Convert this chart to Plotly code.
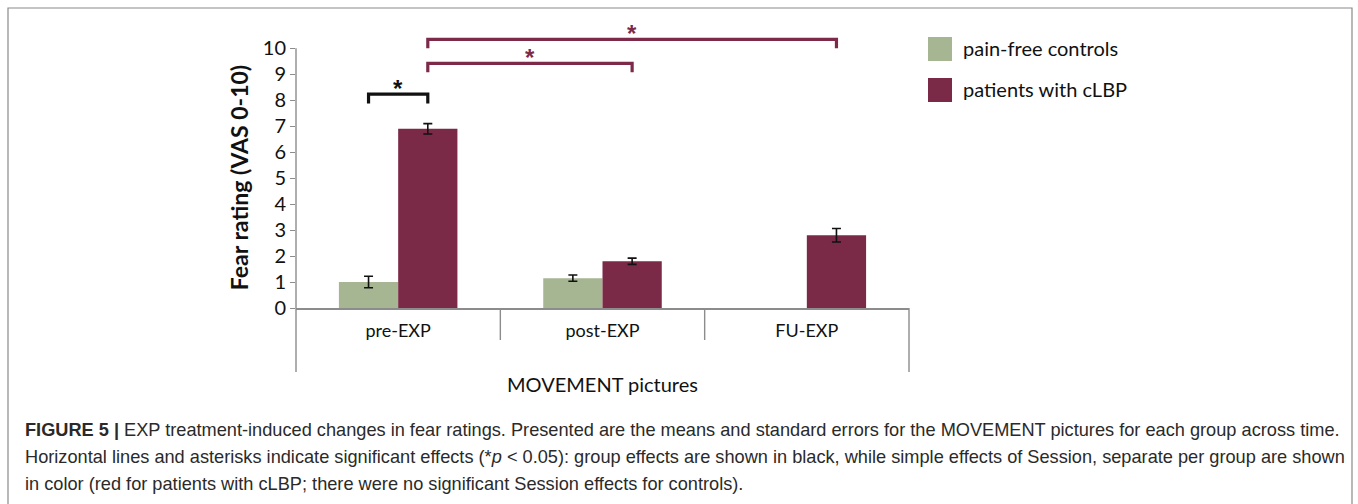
import plotly.graph_objects as go

# ---------------- data ----------------
categories = ["pre-EXP", "post-EXP", "FU-EXP"]
series_names = ["pain-free controls", "patients with cLBP"]
controls_mean = [1.0, 1.15, None]
controls_se = [0.22, 0.12, None]
patients_mean = [6.9, 1.8, 2.8]
patients_se = [0.2, 0.12, 0.26]
y_ticks = [0, 1, 2, 3, 4, 5, 6, 7, 8, 9, 10]
y_title = "Fear rating (VAS 0-10)"
x_title = "MOVEMENT pictures"
# significance brackets: (cat_from, group_from, cat_to, group_to, height, drop, colour key)
brackets = [
    (0, 0, 0, 1, 8.24, 0.36, "group"),
    (0, 1, 1, 1, 9.42, 0.34, "session"),
    (0, 1, 2, 1, 10.35, 0.35, "session"),
]
caption_bold = "FIGURE 5 |"
caption_lines = [
    " EXP treatment-induced changes in fear ratings. Presented are the means and standard errors for the MOVEMENT pictures for each group across time.",
    "Horizontal lines and asterisks indicate significant effects (*<i>p</i> &lt; 0.05): group effects are shown in black, while simple effects of Session, separate per group are shown",
    "in color (red for patients with cLBP; there were no significant Session effects for controls).",
]

# ---------------- style ----------------
GREEN = "#a6b693"
RED = "#7a2946"
AXIS = "#8c8c8c"
colours = {"group": "#111111", "session": "#7d2a4a"}
BARGAP = 0.42
FONT = "Lato"

W, H = 1358, 504
L, R, T, B = 296, 449, 25, 196
PW, PH = W - L - R, H - T - B


def xp(px):
    return (px - L) / PW


def yp(py):
    return (H - B - py) / PH


fig = go.Figure()
fig.add_trace(go.Bar(
    x=categories, y=controls_mean, name=series_names[0], marker_color=GREEN,
    marker_line_width=0,
    error_y=dict(type="data", array=controls_se, color="#111111", thickness=1.6, width=4.5),
))
fig.add_trace(go.Bar(
    x=categories, y=patients_mean, name=series_names[1], marker_color=RED,
    marker_line_width=0,
    error_y=dict(type="data", array=patients_se, color="#111111", thickness=1.6, width=4.5),
))

shapes = []
annotations = []

# brackets and stars
off = (1 - BARGAP) / 4
for c0, g0, c1, g1, h, drop, key in brackets:
    x0 = c0 + (-off if g0 == 0 else off)
    x1 = c1 + (-off if g1 == 0 else off)
    col = colours[key]
    shapes.append(dict(type="path", xref="x", yref="y",
                       path=f"M {x0},{h - drop} L {x0},{h} L {x1},{h} L {x1},{h - drop}",
                       line=dict(color=col, width=3.2)))
    annotations.append(dict(x=(x0 + x1) / 2, y=h - 0.38, xref="x", yref="y", text="<b>*</b>",
                            showarrow=False, yanchor="bottom",
                            font=dict(family="Liberation Sans", size=24, color=col)))

# y axis line (0..10) and category frame lines
shapes.append(dict(type="line", xref="paper", yref="y", x0=0, x1=0, y0=0, y1=10,
                   line=dict(color=AXIS, width=1.4)))
n = len(categories)
for i in range(n + 1):
    outer = i == 0 or i == n
    shapes.append(dict(type="line", xref="paper", yref="paper", x0=i / n, x1=i / n,
                       y0=0, y1=yp(372 if outer else 340),
                       line=dict(color=AXIS, width=1.4)))

# figure border
shapes.append(dict(type="rect", xref="paper", yref="paper",
                   x0=xp(8), x1=xp(1352), y0=yp(540), y1=yp(8),
                   line=dict(color="#8a8a8a", width=1.2)))

# legend (drawn manually for large swatches)
for i, (nm, col) in enumerate(zip(series_names, [GREEN, RED])):
    top = 37 + i * 41
    shapes.append(dict(type="rect", xref="paper", yref="paper",
                       x0=xp(928), x1=xp(952), y0=yp(top + 24), y1=yp(top),
                       fillcolor=col, line=dict(width=0)))
    annotations.append(dict(x=xp(961), y=yp(top + 11), xref="paper", yref="paper",
                            text=nm, showarrow=False, xanchor="left", yanchor="middle",
                            font=dict(family=FONT, size=20, color="#111111")))

# y title
annotations.append(dict(x=xp(239), y=5, xref="paper", yref="y", text=f"<b>{y_title}</b>",
                        textangle=-90, showarrow=False, xanchor="center", yanchor="middle",
                        font=dict(family=FONT, size=23, color="#111111")))
# x title
annotations.append(dict(x=0.5, y=yp(384), xref="paper", yref="paper", text=x_title,
                        showarrow=False, xanchor="center", yanchor="middle",
                        font=dict(family=FONT, size=20, color="#111111")))

# caption
for i, line in enumerate(caption_lines):
    txt = (f"<b>{caption_bold}</b>" + line) if i == 0 else line
    annotations.append(dict(x=xp(23), y=yp(430 + 27 * i), xref="paper", yref="paper",
                            text=txt, showarrow=False, xanchor="left", yanchor="middle",
                            font=dict(family="Liberation Sans", size=18.2, color="#2a2a2a")))

fig.update_layout(
    width=W, height=H, margin=dict(l=L, r=R, t=T, b=B, pad=0),
    paper_bgcolor="white", plot_bgcolor="white",
    barmode="group", bargap=BARGAP, bargroupgap=0,
    showlegend=False,
    shapes=shapes, annotations=annotations,
    font=dict(family=FONT, color="#111111"),
    xaxis=dict(type="category", range=[-0.5, n - 0.5], showline=True, linecolor=AXIS,
               linewidth=1.6, ticks="", showgrid=False, zeroline=False,
               tickfont=dict(family=FONT, size=18, color="#111111"), ticklabelstandoff=6),
    yaxis=dict(range=[0, 10.9], tickvals=y_ticks, showline=False, ticks="outside",
               ticklen=5, tickwidth=1.3, tickcolor=AXIS, showgrid=False, zeroline=False,
               tickfont=dict(family=FONT, size=20, color="#111111")),
)

fig.write_html("out.html", config={"displayModeBar": False},
               post_script="document.body.style.margin='0';document.body.style.overflow='hidden';")
